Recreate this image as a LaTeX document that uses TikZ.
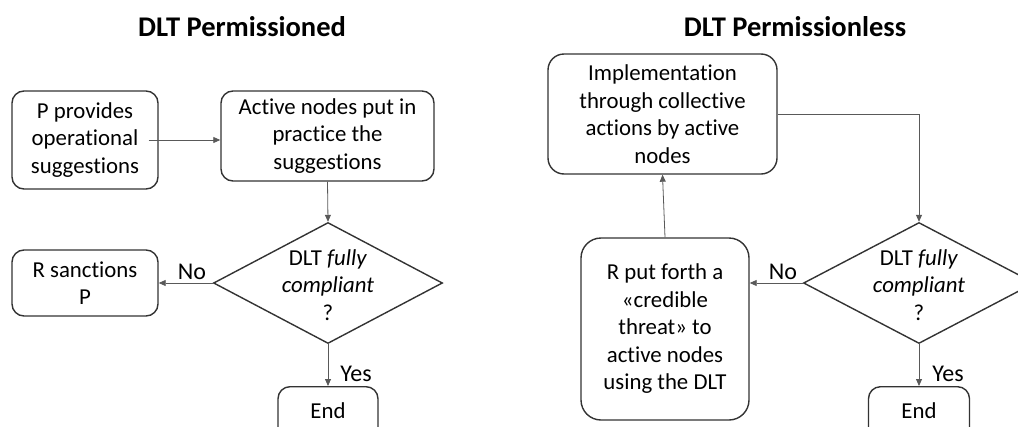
\documentclass[tikz,border=0pt]{standalone}
\usepackage{fontspec}
\setmainfont[Ligatures=NoCommon]{Carlito}
\usetikzlibrary{arrows.meta,shapes.geometric}
\tikzset{
  box/.style={draw=black!80, line width=1.4pt, rounded corners=12pt, inner sep=0pt,
              align=center, font=\fontsize{22.8}{27.5}\selectfont},
  decision/.style={draw=black!80, line width=1.4pt, diamond, inner sep=0pt, aspect=1.9},
  dtext/.style={align=center, inner sep=0pt, font=\fontsize{22.8}{27.5}\selectfont},
  flow/.style={draw=black!65, line width=0.8pt, -{Triangle[length=7pt,width=6pt]}},
  answer/.style={inner sep=0pt, font=\fontsize{24}{28}\selectfont},
  heading/.style={inner sep=0pt, font=\fontsize{28.5}{32}\selectfont\bfseries}
}
\begin{document}
\begin{tikzpicture}[x=1pt,y=-1pt]
\clip (0,0) rectangle (1018,426);

% ---- permissioned ledger ----
\node[heading] (t1) at (242,27) {DLT Permissioned};
\node[box, minimum width=146pt, minimum height=98pt] (p) at (85,140)
  {P provides\\operational\\suggestions};
\node[box, minimum width=213pt, minimum height=90pt] (act) at (327.5,136)
  {Active nodes put in\\practice the\\suggestions};
\node[decision, minimum width=229pt, minimum height=121pt] (d1) at (328,283) {};
\node[dtext] (q1) at (328,285) {DLT \textit{fully}\\\textit{compliant}\\?};
\node[box, minimum width=146pt, minimum height=66pt] (rs) at (85,283)
  {R sanctions\\P};
\node[box, minimum width=100pt, minimum height=70pt, anchor=north] (e1) at (328,386) {};
\node[dtext] (e1t) at (328,411) {End};

\draw[flow] ([xshift=-10pt]p.east) -- (act.west |- p.east);
\draw[flow] (act.south) -- (d1.north);
\draw[flow] (d1.west) -- (rs.east |- d1.west);
\draw[flow] (d1.south) -- (e1.north);
\node[answer] (no1) at (192,272) {No};
\node[answer] (yes1) at (356,374) {Yes};

% ---- permissionless ledger ----
\node[heading] (t2) at (795,27) {DLT Permissionless};
\node[box, rounded corners=16pt, minimum width=229pt, minimum height=120pt] (impl) at (662.5,114)
  {Implementation\\through collective\\actions by active\\nodes};
\node[decision, minimum width=231pt, minimum height=121pt] (d2) at (919,283) {};
\node[dtext] (q2) at (919,285) {DLT \textit{fully}\\\textit{compliant}\\?};
\node[box, rounded corners=20pt, minimum width=168pt, minimum height=182pt] (threat) at (665,329)
  {R put forth a\\«credible\\threat» to\\active nodes\\using the DLT};
\node[box, minimum width=101pt, minimum height=70pt, anchor=north] (e2) at (919,386) {};
\node[dtext] (e2t) at (919,411) {End};

\draw[flow] (impl.east) -| (d2.north);
\draw[flow] (d2.west) -- (threat.east |- d2.west);
\draw[flow] (threat.north) -- (impl.south);
\draw[flow] (d2.south) -- (e2.north);
\node[answer] (no2) at (783,272) {No};
\node[answer] (yes2) at (948,374) {Yes};
\end{tikzpicture}
\end{document}
